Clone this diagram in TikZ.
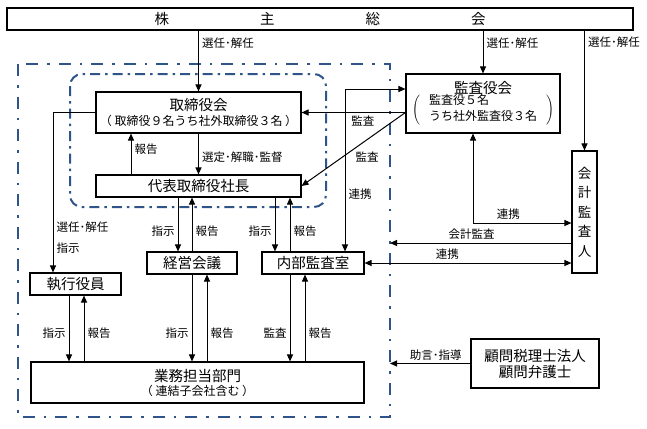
\documentclass[tikz,border=0pt]{standalone}
\usepackage{fontspec}
\setmainfont{Noto Sans CJK JP}
\usepackage{tikz}
\usetikzlibrary{arrows.meta, positioning, calc}
\definecolor{grpblue}{RGB}{46,84,138}
\newcommand{\bigtxt}{\fontsize{14.5}{16}\selectfont}
\newcommand{\subtxt}{\fontsize{12}{14}\selectfont}

\begin{document}
\begin{tikzpicture}[x=1pt, y=-1pt,
  box/.style={draw, line width=1.1pt, inner sep=0pt, align=center, font=\bigtxt},
  lbl/.style={inner sep=3pt, font=\fontsize{11.5}{13}\selectfont},
  arr/.style={line width=1pt, -{Triangle[length=7pt,width=6pt]}},
  both/.style={line width=1pt, {Triangle[length=7pt,width=6pt]}-{Triangle[length=7pt,width=6pt]}},
  grp/.style={grpblue, line width=2pt}]
\useasboundingbox (0,0) rectangle (647,428);

% group frames
\coordinate (outerNW) at (18,64);
\coordinate (outerSE) at (390,417);
\draw[grp, dash pattern=on 12pt off 9pt on 2.5pt off 9pt] (outerNW) rectangle (outerSE);
\draw[grp, rounded corners=12pt, dash pattern=on 10pt off 5pt on 2.5pt off 5pt] (70,74) rectangle (326,207);

% boxes
\node[box, minimum width=626pt, minimum height=22pt] (soukai) at (320,19) {株\hspace{91pt}主\hspace{91pt}総\hspace{91pt}会};
\node[box, minimum width=205pt, minimum height=41pt] (torikai) at (198.5,112.5) {取締役会\\[-1pt]{\subtxt （ 取締役９名うち社外取締役３名 ）}};
\node[box, minimum width=205pt, minimum height=22pt] (shacho) at (198.5,186) {代表取締役社長};
\node[box, minimum width=154pt, minimum height=59pt] (kansa) at (483,103.5) {監査役会\\[-2pt]
  $\left(\hspace{9pt}\begin{tabular}{@{}l@{}}\subtxt 監査役５名\\ \subtxt うち社外監査役３名\end{tabular}\hspace{9pt}\right)$};
\node[box, minimum width=25pt, minimum height=122pt, font=\fontsize{13.5}{19.5}\selectfont] (kaikei) at (584.5,212) {会\\計\\監\\査\\人};
\node[box, minimum width=91pt, minimum height=22pt] (shikko) at (75.5,284) {執行役員};
\node[box, minimum width=90pt, minimum height=22pt] (keiei) at (192,263) {経営会議};
\node[box, minimum width=102pt, minimum height=22pt] (naibu) at (313,263) {内部監査室};
\node[box, minimum width=333pt, minimum height=41pt] (gyomu) at (197.5,382.5) {業務担当部門\\[-2pt]{\subtxt （ 連結子会社含む ）}};
\node[box, minimum width=128pt, minimum height=49pt] (komon) at (535,363.5) {顧問税理士法人\\顧問弁護士};

% from the shareholders
\draw[arr] (torikai.north |- soukai.south) -- node[lbl, right, pos=0.2] {選任･解任} (torikai.north);
\draw[arr] (kansa.north |- soukai.south) -- node[lbl, right, pos=0.3] {選任･解任} (kansa.north);
\draw[arr] (kaikei.north |- soukai.south) -- node[lbl, right, pos=0.1] {選任･解任} (kaikei.north);

% board and president
\draw[arr] (torikai) -- node[lbl, right, pos=0.57] {選定･解職･監督} (shacho);
\coordinate (t1) at ([xshift=-67.5pt]shacho.north);
\draw[arr] (t1) -- node[lbl, right, pos=0.62] {報告} (t1 |- torikai.south);
\coordinate (t2) at ([xshift=-22.5pt]shikko.north);
\draw[arr] (torikai.west) -| node[lbl, right, pos=0.89, align=left, font=\fontsize{11.5}{21}\selectfont] {選任･解任\\指示} (t2);

% auditors
\coordinate (k0) at (kansa.west |- torikai.east);
\draw[arr] (k0) -- node[lbl, below, pos=0.41] {監査} (torikai.east);
\draw[arr] (k0) -- node[lbl, right=10pt, pos=0.61] {監査} (shacho.east);
\coordinate (k1) at ([yshift=14.5pt]kansa.west);
\coordinate (n1) at ([xshift=32pt]naibu.north);
\draw[both] (k1) -| node[lbl, right, pos=0.825] {連携} (n1);
\coordinate (k2) at ([xshift=-10pt]kansa.south);
\coordinate (c1) at ([yshift=-11pt]kaikei.west);
\draw[both] (k2) |- node[lbl, above, pos=0.68] {連携} (c1);
\coordinate (c2) at ([yshift=-31pt]kaikei.west);
\draw[arr] (c2) -- node[lbl, above, pos=0.55] {会計監査} (c2 -| outerSE);
\draw[both] (naibu.east) -- node[lbl, above, pos=0.4] {連携} (naibu.east -| kaikei.west);

% president to the middle boxes
\coordinate (e1) at ([xshift=-14pt]keiei.north);
\draw[arr] (e1 |- shacho.south) -- node[lbl, left, pos=0.62] {指示} (e1);
\draw[arr] (keiei.north) -- node[lbl, right, pos=0.38] {報告} (keiei.north |- shacho.south);
\coordinate (n2) at ([xshift=-38pt]naibu.north);
\coordinate (n3) at ([xshift=-23pt]naibu.north);
\draw[arr] (n2 |- shacho.south) -- node[lbl, left, pos=0.62] {指示} (n2);
\draw[arr] (n3) -- node[lbl, right, pos=0.38] {報告} (n3 |- shacho.south);

% down to the business units
\coordinate (s1) at ([xshift=-6.5pt]shikko.south);
\coordinate (s2) at ([xshift=8.5pt]shikko.south);
\draw[arr] (s1) -- node[lbl, left, pos=0.57] {指示} (s1 |- gyomu.north);
\draw[arr] (s2 |- gyomu.north) -- node[lbl, right, pos=0.43] {報告} (s2);
\coordinate (g2) at ([xshift=15pt]keiei.south);
\draw[arr] (keiei.south) -- node[lbl, left, pos=0.67] {指示} (keiei.south |- gyomu.north);
\draw[arr] (g2 |- gyomu.north) -- node[lbl, right, pos=0.33] {報告} (g2);
\coordinate (m1) at ([xshift=-23pt]naibu.south);
\coordinate (m2) at ([xshift=-8pt]naibu.south);
\draw[arr] (m1) -- node[lbl, left, pos=0.67] {監査} (m1 |- gyomu.north);
\draw[arr] (m2 |- gyomu.north) -- node[lbl, right, pos=0.33] {報告} (m2);

% advisers
\draw[arr] (komon.west) -- node[lbl, above, pos=0.43] {助言･指導} (komon.west -| outerSE);
\end{tikzpicture}
\end{document}
